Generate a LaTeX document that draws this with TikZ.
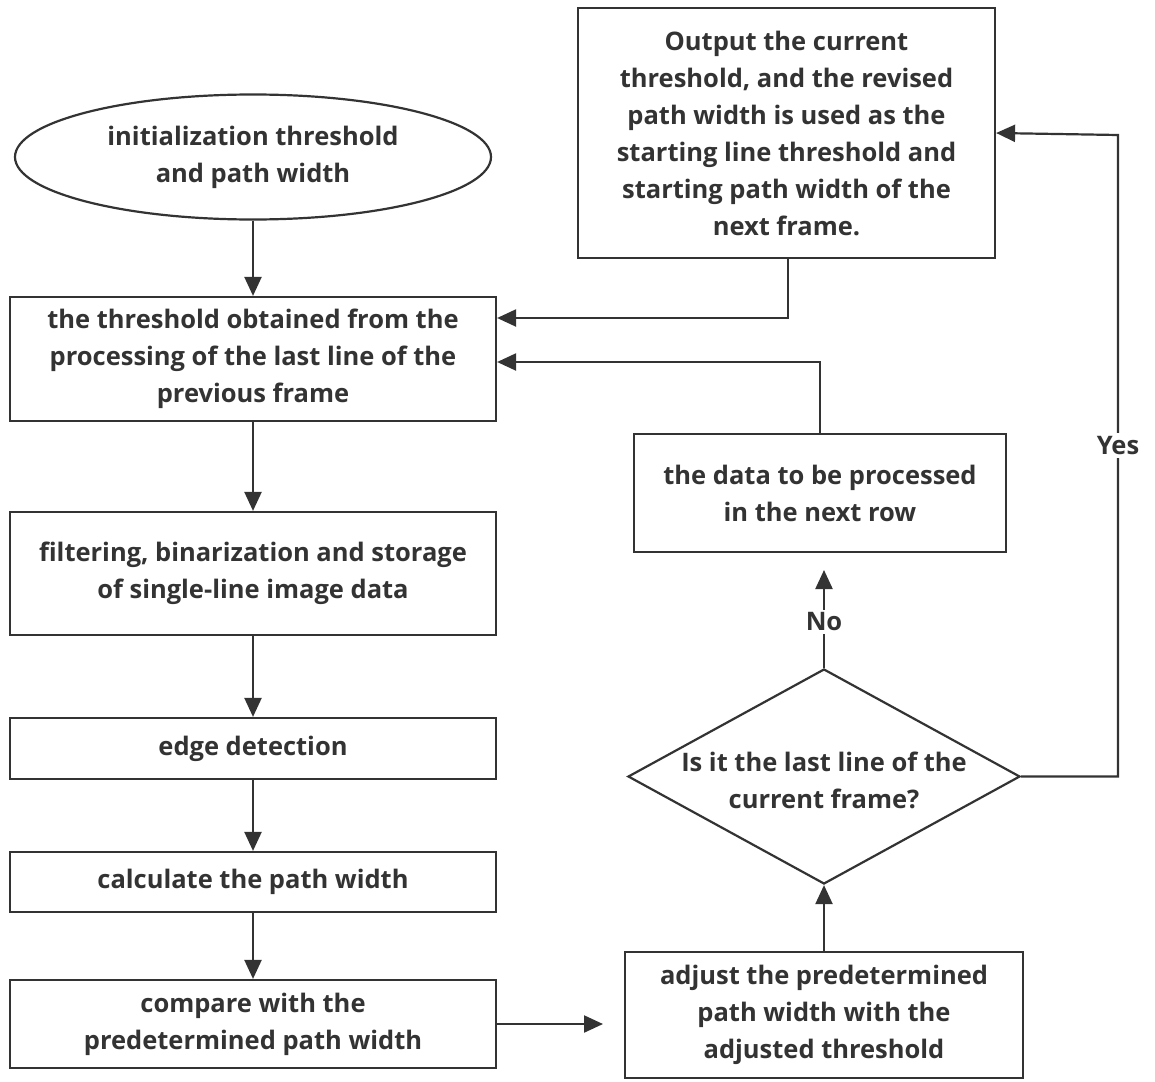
\documentclass[tikz,border=0pt]{standalone}
\usepackage{fontspec}
\setmainfont{Open Sans}[BoldFont={* Bold}]
\usetikzlibrary{shapes.geometric,arrows.meta,calc}
\definecolor{ink}{HTML}{333333}
\begin{document}
\begin{tikzpicture}[x=1pt,y=-1pt,
  every node/.style={font=\fontsize{25.5}{37}\selectfont\bfseries, text=ink, align=center},
  rbox/.style={draw=ink, line width=2.2pt, rectangle, inner sep=0pt},
  arr/.style={draw=ink, line width=2.2pt, -{Triangle[length=19pt,width=17pt]}},
  ln/.style={draw=ink, line width=2.2pt}]
\useasboundingbox[fill=white] (0,0) rectangle (1155,1081);
% nodes
\node[ellipse, draw=ink, line width=2.2pt, minimum width=476pt, minimum height=125pt, inner sep=0pt] (init) at (253,157) {initialization threshold\\and path width};
\node[rbox, minimum width=486pt, minimum height=124pt] (b1) at (253,359) {the threshold obtained from the\\processing of the last line of the\\previous frame};
\node[rbox, minimum width=486pt, minimum height=123pt] (b2) at (253,573.5) {filtering, binarization and storage\\of single-line image data};
\node[rbox, minimum width=486pt, minimum height=61pt] (b3) at (253,748.5) {edge detection};
\node[rbox, minimum width=486pt, minimum height=60pt] (b4) at (253,882) {calculate the path width};
\node[rbox, minimum width=486pt, minimum height=88pt] (b5) at (253,1024) {compare with the\\predetermined path width};
\node[rbox, minimum width=398pt, minimum height=126pt] (b6) at (824,1015) {adjust the predetermined\\path width with the\\adjusted threshold};
\node[diamond, draw=ink, line width=2.2pt, minimum width=392pt, minimum height=215pt, inner sep=0pt] (d) at (824,776.5) {};
\node (dtxt) at (824,780) {Is it the last line of the\\current frame?};
\node[rbox, minimum width=372pt, minimum height=118pt] (b7) at (820,493) {the data to be processed\\in the next row};
\node[rbox, minimum width=417pt, minimum height=250pt] (b8) at (786.5,133) {Output the current\\threshold, and the revised\\path width is used as the\\starting line threshold and\\starting path width of the\\next frame.};
% helper coordinates
\coordinate (cmpend) at (603,1024);
\coordinate (noend) at (824,570);
\coordinate (ycorner) at (1118,776.5);
\coordinate (ytop) at (1118,135);
% connectors
\draw[arr] (init) -- (b1);
\draw[arr] (b1) -- (b2);
\draw[arr] (b2) -- (b3);
\draw[arr] (b3) -- (b4);
\draw[arr] (b4) -- (b5);
\draw[arr] (b5.east) -- (cmpend);
\draw[arr] (b6.north) -- (d.south);
\draw[arr] (d.north) -- node[fill=white, inner sep=3pt, pos=0.47] (no) {No} (noend);
\draw[arr] (b7.north) |- ($(b1.east)+(0,3)$);
\draw[arr] ($(b8.south)+(1.5,0)$) |- ($(b1.east)+(0,-41)$);
\draw[arr] (d.east) -- (ycorner) -- node[fill=white, inner sep=3pt, pos=0.516] (yes) {Yes} (ytop) -- (b8.east);
\end{tikzpicture}
\end{document}
